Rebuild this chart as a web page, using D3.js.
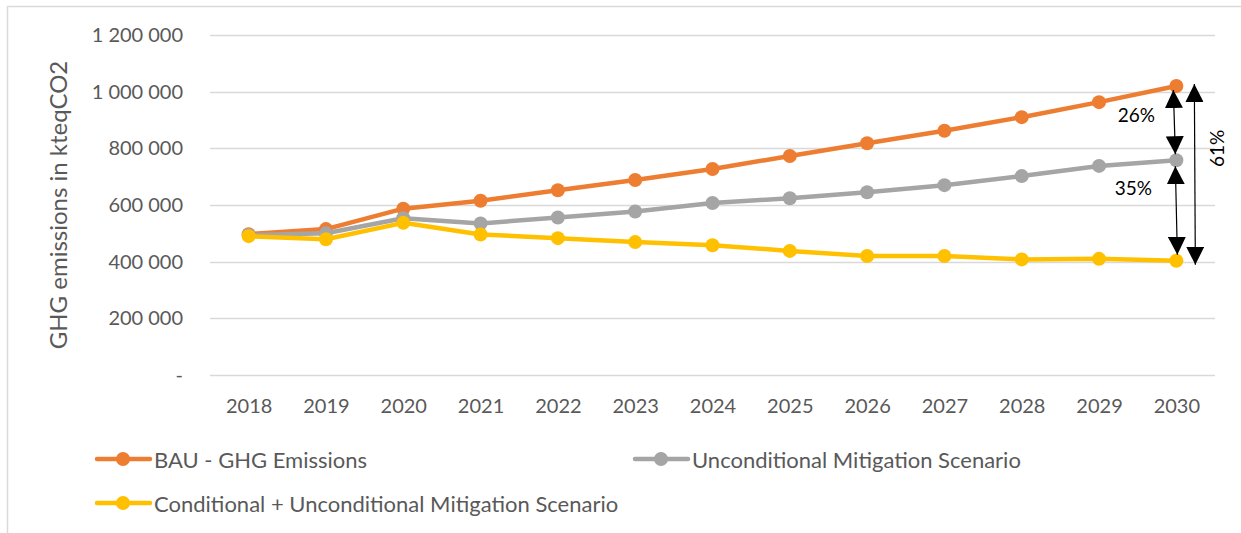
<!DOCTYPE html>
<html>
<head>
<meta charset="utf-8">
<script src="https://cdn.jsdelivr.net/npm/d3@7"></script>
<style>
  body { margin: 0; background: #fff; }
  text { font-family: Lato, "Open Sans", sans-serif; }
</style>
</head>
<body>
<div id="canvas"></div>
<script>
// data
const years = ["2018", "2019", "2020", "2021", "2022", "2023", "2024", "2025", "2026", "2027", "2028", "2029", "2030"];
const bau = [497000, 515000, 587000, 615000, 652000, 688000, 727000, 773000, 818000, 862000, 910000, 963000, 1020000];
const unconditional = [494000, 500000, 553000, 535000, 556000, 577000, 607000, 624000, 645000, 670000, 702000, 738000, 758000];
const conditional = [490000, 479000, 537000, 496000, 483000, 469000, 458000, 438000, 420000, 420000, 408000, 410000, 403000];
const yTicks = [0, 200000, 400000, 600000, 800000, 1000000, 1200000];
const seriesNames = ["BAU - GHG Emissions", "Unconditional Mitigation Scenario", "Conditional + Unconditional Mitigation Scenario"];
const gapLabels = ["26%", "35%", "61%"];

// dimensions
const width = 1241;
const height = 533;
const margins = {top: 35, right: 26, bottom: 158, left: 210};
const dataWidth = width - margins.left - margins.right;
const dataHeight = height - margins.top - margins.bottom;

const colors = ["#ED7D31", "#A5A5A5", "#FFC000"];

var svg = d3.select("#canvas").append("svg")
    .attr("width", width)
    .attr("height", height);

// outer border (only top and left visible)
svg.append("path")
    .attr("d", `M7.5,${height} V6.5 H${width}`)
    .attr("fill", "none")
    .attr("stroke", "#d9d9d9")
    .attr("stroke-width", 1.5);

var dataArea = svg.append("g")
    .attr("transform", `translate(${margins.left}, ${margins.top})`);

var x = d3.scalePoint()
    .domain(years)
    .range([0, dataWidth])
    .padding(0.5);

var y = d3.scaleLinear()
    .domain([0, 1200000])
    .range([dataHeight, 0]);

// gridlines
dataArea.append("g")
    .selectAll("line")
    .data(yTicks)
    .enter()
    .append("line")
    .attr("x1", 0)
    .attr("x2", dataWidth)
    .attr("y1", d => Math.round(y(d)) + 0.5)
    .attr("y2", d => Math.round(y(d)) + 0.5)
    .attr("stroke", "#d9d9d9")
    .attr("stroke-width", 1.5);

// Y axis labels
var fmt = d => d === 0 ? "-" : d3.format(",")(d).replace(/,/g, "\u2009\u2009");
var yAxis = d3.axisLeft(y).tickValues(yTicks).tickFormat(fmt).tickSize(0).tickPadding(27);
var yAxisGroup = dataArea.append("g").call(yAxis);
yAxisGroup.select(".domain").remove();
yAxisGroup.selectAll("text")
    .attr("font-size", 20)
    .attr("fill", "#595959")
    .style("font-family", "Lato, sans-serif");

// X axis labels
var xAxis = d3.axisBottom(x).tickSize(0).tickPadding(24);
var xAxisGroup = dataArea.append("g")
    .attr("transform", `translate(0, ${dataHeight})`)
    .call(xAxis);
xAxisGroup.select(".domain").remove();
xAxisGroup.selectAll("text")
    .attr("font-size", 20)
    .attr("fill", "#595959")
    .style("font-family", "Lato, sans-serif");

// Y axis title
svg.append("text")
    .attr("text-anchor", "middle")
    .attr("transform", `translate(67, ${margins.top + dataHeight / 2}) rotate(-90)`)
    .attr("font-size", 24)
    .attr("fill", "#595959")
    .text("GHG emissions in kteqCO2");

// lines
const allSeries = [bau, unconditional, conditional];
var line = d3.line()
    .x((d, i) => x(years[i]))
    .y(d => y(d));

allSeries.forEach(function(values, s) {
    dataArea.append("path")
        .datum(values)
        .attr("fill", "none")
        .attr("stroke", colors[s])
        .attr("stroke-width", 4.5)
        .attr("stroke-linejoin", "round")
        .attr("d", line);
    dataArea.selectAll(".pt" + s)
        .data(values)
        .enter()
        .append("circle")
        .attr("class", "pt" + s)
        .attr("cx", (d, i) => x(years[i]))
        .attr("cy", d => y(d))
        .attr("r", 7)
        .attr("fill", colors[s]);
});

// gap arrows
svg.append("defs").selectAll("marker")
    .data(["arrEnd", "arrStart"])
    .enter()
    .append("marker")
    .attr("id", d => d)
    .attr("viewBox", "0 0 10 10")
    .attr("refX", 10)
    .attr("refY", 5)
    .attr("markerWidth", 18)
    .attr("markerHeight", 18)
    .attr("markerUnits", "userSpaceOnUse")
    .attr("orient", d => d === "arrEnd" ? "auto" : "auto-start-reverse")
    .append("path")
    .attr("d", "M0,0 L10,5 L0,10 Z")
    .attr("fill", "#000");

const last = years.length - 1;
const xLast = x(years[last]);
const arrows = [
    {x1: xLast - 3, y1: y(bau[last]) + 4, x2: xLast - 1, y2: y(unconditional[last]) - 6, label: gapLabels[0], lx: -40, ly: y((bau[last] + unconditional[last]) / 2) - 6, rot: false},
    {x1: xLast - 1, y1: y(unconditional[last]) + 6, x2: xLast + 1, y2: y(conditional[last]) - 6, label: gapLabels[1], lx: -43, ly: y((unconditional[last] + conditional[last]) / 2) - 20, rot: false},
    {x1: xLast + 18, y1: y(bau[last]) - 2, x2: xLast + 19, y2: y(conditional[last]) + 4, label: gapLabels[2], lx: 43, ly: y((bau[last] + conditional[last]) / 2) - 25, rot: true}
];

var arrowGroup = dataArea.append("g");
arrows.forEach(function(a) {
    arrowGroup.append("line")
        .attr("x1", a.x1).attr("y1", a.y1)
        .attr("x2", a.x2).attr("y2", a.y2)
        .attr("stroke", "#000")
        .attr("stroke-width", 1.2)
        .attr("marker-start", "url(#arrStart)")
        .attr("marker-end", "url(#arrEnd)");
    var tx = xLast + a.lx;
    arrowGroup.append("text")
        .attr("text-anchor", "middle")
        .attr("dominant-baseline", "middle")
        .attr("transform", a.rot ? `translate(${tx}, ${a.ly}) rotate(-90)` : `translate(${tx}, ${a.ly})`)
        .attr("font-size", 19)
        .attr("fill", "#000")
        .text(a.label);
});

// legend
const legendPos = [{x: 97, y: 459}, {x: 635, y: 459}, {x: 97, y: 503}];
var legend = svg.append("g");
seriesNames.forEach(function(name, s) {
    var p = legendPos[s];
    legend.append("line")
        .attr("x1", p.x).attr("x2", p.x + 53)
        .attr("y1", p.y).attr("y2", p.y)
        .attr("stroke", colors[s])
        .attr("stroke-width", 4.5)
        .attr("stroke-linecap", "round");
    legend.append("circle")
        .attr("cx", p.x + 26)
        .attr("cy", p.y)
        .attr("r", 7)
        .attr("fill", colors[s]);
    legend.append("text")
        .attr("x", p.x + 57)
        .attr("y", p.y)
        .attr("dominant-baseline", "central")
        .attr("font-size", 22)
        .attr("fill", "#595959")
        .text(name);
});
</script>
</body>
</html>
